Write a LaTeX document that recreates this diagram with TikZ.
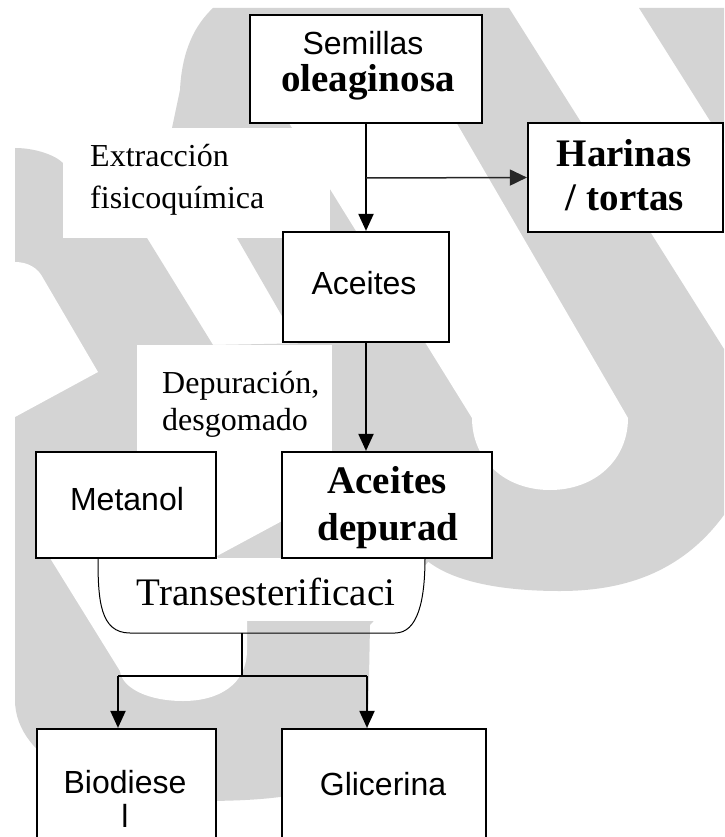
\documentclass[tikz,border=0pt]{standalone}
\usepackage{fontspec}
\setmainfont{Liberation Serif}
\setsansfont{Liberation Sans}
\usetikzlibrary{arrows.meta}
\definecolor{wmgray}{RGB}{212,212,212}
\newcommand\mySans{\sffamily\fontsize{32}{38}\selectfont}
\newcommand\mySerifB{\rmfamily\bfseries\fontsize{39}{46}\selectfont}
\newcommand\mySerifL{\rmfamily\fontsize{39}{46}\selectfont}
\newcommand\mySerifS{\rmfamily\fontsize{32}{38}\selectfont}
\begin{document}
\begin{tikzpicture}[x=1pt,y=-1pt,
  box/.style={draw=black, line width=2.2pt, fill=white, inner sep=0pt, rectangle},
  txt/.style={inner sep=0pt, text=black},
  conn/.style={line width=2pt},
  arr/.style={conn, -{Triangle[length=17pt,width=15pt]}},
  thinarr/.style={line width=1.5pt, draw=black!85, -{Triangle[length=17pt,width=16pt]}},
  wm/.style={fill=wmgray},
  blank/.style={fill=white}]
\useasboundingbox (0,0) rectangle (724,837);
\clip (0,0) rectangle (724,837);
\fill[white] (0,0) rectangle (724,837);
% ---- watermark ----
\fill[wm] (213,8) -- (509,8) -- (724,349) -- (724,515)
  .. controls (680,575) and (620,591) .. (560,591)
  .. controls (490,591) and (440,578) .. (418,552)
  -- (237,238) -- (172,128) -- (180,90)
  .. controls (182,50) and (195,25) .. (213,8) -- cycle;
\fill[wm] (639,8) -- (724,8) -- (724,143) -- cycle;
\fill[wm] (15,148) .. controls (35,148) and (55,155) .. (63,163)
  -- (100,200) -- (147,238) -- (213,345) -- (366,342) -- (430,560)
  -- (370,625) -- (368,730)
  .. controls (365,790) and (300,801) .. (200,801)
  .. controls (100,801) and (15,760) .. (15,700) -- cycle;
\fill[blank] (281,110) -- (449,110) -- (628,418)
  .. controls (628,460) and (595,490) .. (550,490)
  .. controls (505,490) and (472,460) .. (472,418) -- cycle;
\fill[blank] (15,262) .. controls (28,262) and (38,268) .. (43,278)
  -- (98,372) -- (15,417) -- cycle;
\fill[blank] (50,558) -- (40,545) -- (150,470) -- (216,452) -- (300,452)
  -- (300,511) -- (282,521) -- (217,556) -- (247,621) -- (247,650)
  .. controls (247,685) and (218,701) .. (183,701)
  .. controls (148,701) and (122,688) .. (120,671) -- cycle;
% label backgrounds
\fill[blank] (63,128) rectangle (330,238);
\fill[blank] (137,345) rectangle (332,452);
\fill[blank] (98,558) rectangle (425,621);
% ---- boxes ----
\node[box, minimum width=232pt, minimum height=108pt] (semillas) at (366,69) {};
\node[box, minimum width=195pt, minimum height=109pt] (harinas) at (625.5,177.5) {};
\node[box, minimum width=166pt, minimum height=110pt] (aceites) at (366,287) {};
\node[box, minimum width=180pt, minimum height=106pt] (metanol) at (126,505) {};
\node[box, minimum width=210pt, minimum height=106pt] (acdep) at (387,505) {};
\node[box, minimum width=179pt, minimum height=131pt] (biodiesel) at (126.5,794.5) {};
\node[box, minimum width=204pt, minimum height=131pt] (glicerina) at (384,794.5) {};
% ---- connectors ----
\coordinate (j1) at (366,178);
\draw[arr] (semillas.south) -- (aceites.north);
\draw[thinarr] (j1) -- (harinas.west);
\draw[arr] (aceites.south) -- (aceites.south |- acdep.north);
\coordinate (tA) at (98,558);
\coordinate (tB) at (425,558);
\draw[line width=1pt] (tA) .. controls (98,600) and (100,633) .. (130,633)
  -- (395,633) .. controls (418,633) and (425,600) .. (tB);
\coordinate (tb) at (242,633);
\coordinate (split) at (242,676);
\coordinate (bl) at (118,676);
\coordinate (br) at (367,676);
\draw[conn] (tb) -- (split);
\draw[conn] (bl) -- (br);
\draw[arr] (bl) -- (bl |- biodiesel.north);
\draw[arr] (br) -- (br |- glicerina.north);
% ---- texts ----
\node[txt, font=\mySans, anchor=base] (tSem) at (363,55) {Semillas};
\node[txt, font=\mySerifB, anchor=base] (tOle) at (368,92) {oleaginosa};
\node[txt, font=\mySerifB, anchor=base] (tHar) at (624,167) {Harinas};
\node[txt, font=\mySerifB, anchor=base] (tTor) at (625,210) {/ tortas};
\node[txt, font=\mySans, anchor=base] (tAce) at (364,294) {Aceites};
\node[txt, font=\mySerifB, anchor=base] (tAd1) at (387,493) {Aceites};
\node[txt, font=\mySerifB, anchor=base] (tAd2) at (388,540) {depurad};
\node[txt, font=\mySans, anchor=base] (tMet) at (127,510) {Metanol};
\node[txt, font=\mySerifL, anchor=base] (trans) at (266,605) {Transesterificaci};
\node[txt, font=\mySans, anchor=base] (tBio1) at (125,793) {Biodiese};
\node[txt, font=\mySans, anchor=base] (tBio2) at (125,827) {l};
\node[txt, font=\mySans, anchor=base] (tGli) at (383,795) {Glicerina};
\node[txt, font=\mySerifS, anchor=base west] (tExt1) at (90,167) {Extracción};
\node[txt, font=\mySerifS, anchor=base west] (tExt2) at (90,208) {fisicoquímica};
\node[txt, font=\mySerifS, anchor=base west] (tDep1) at (162,393) {Depuración,};
\node[txt, font=\mySerifS, anchor=base west] (tDep2) at (162,430) {desgomado};
\end{tikzpicture}
\end{document}
